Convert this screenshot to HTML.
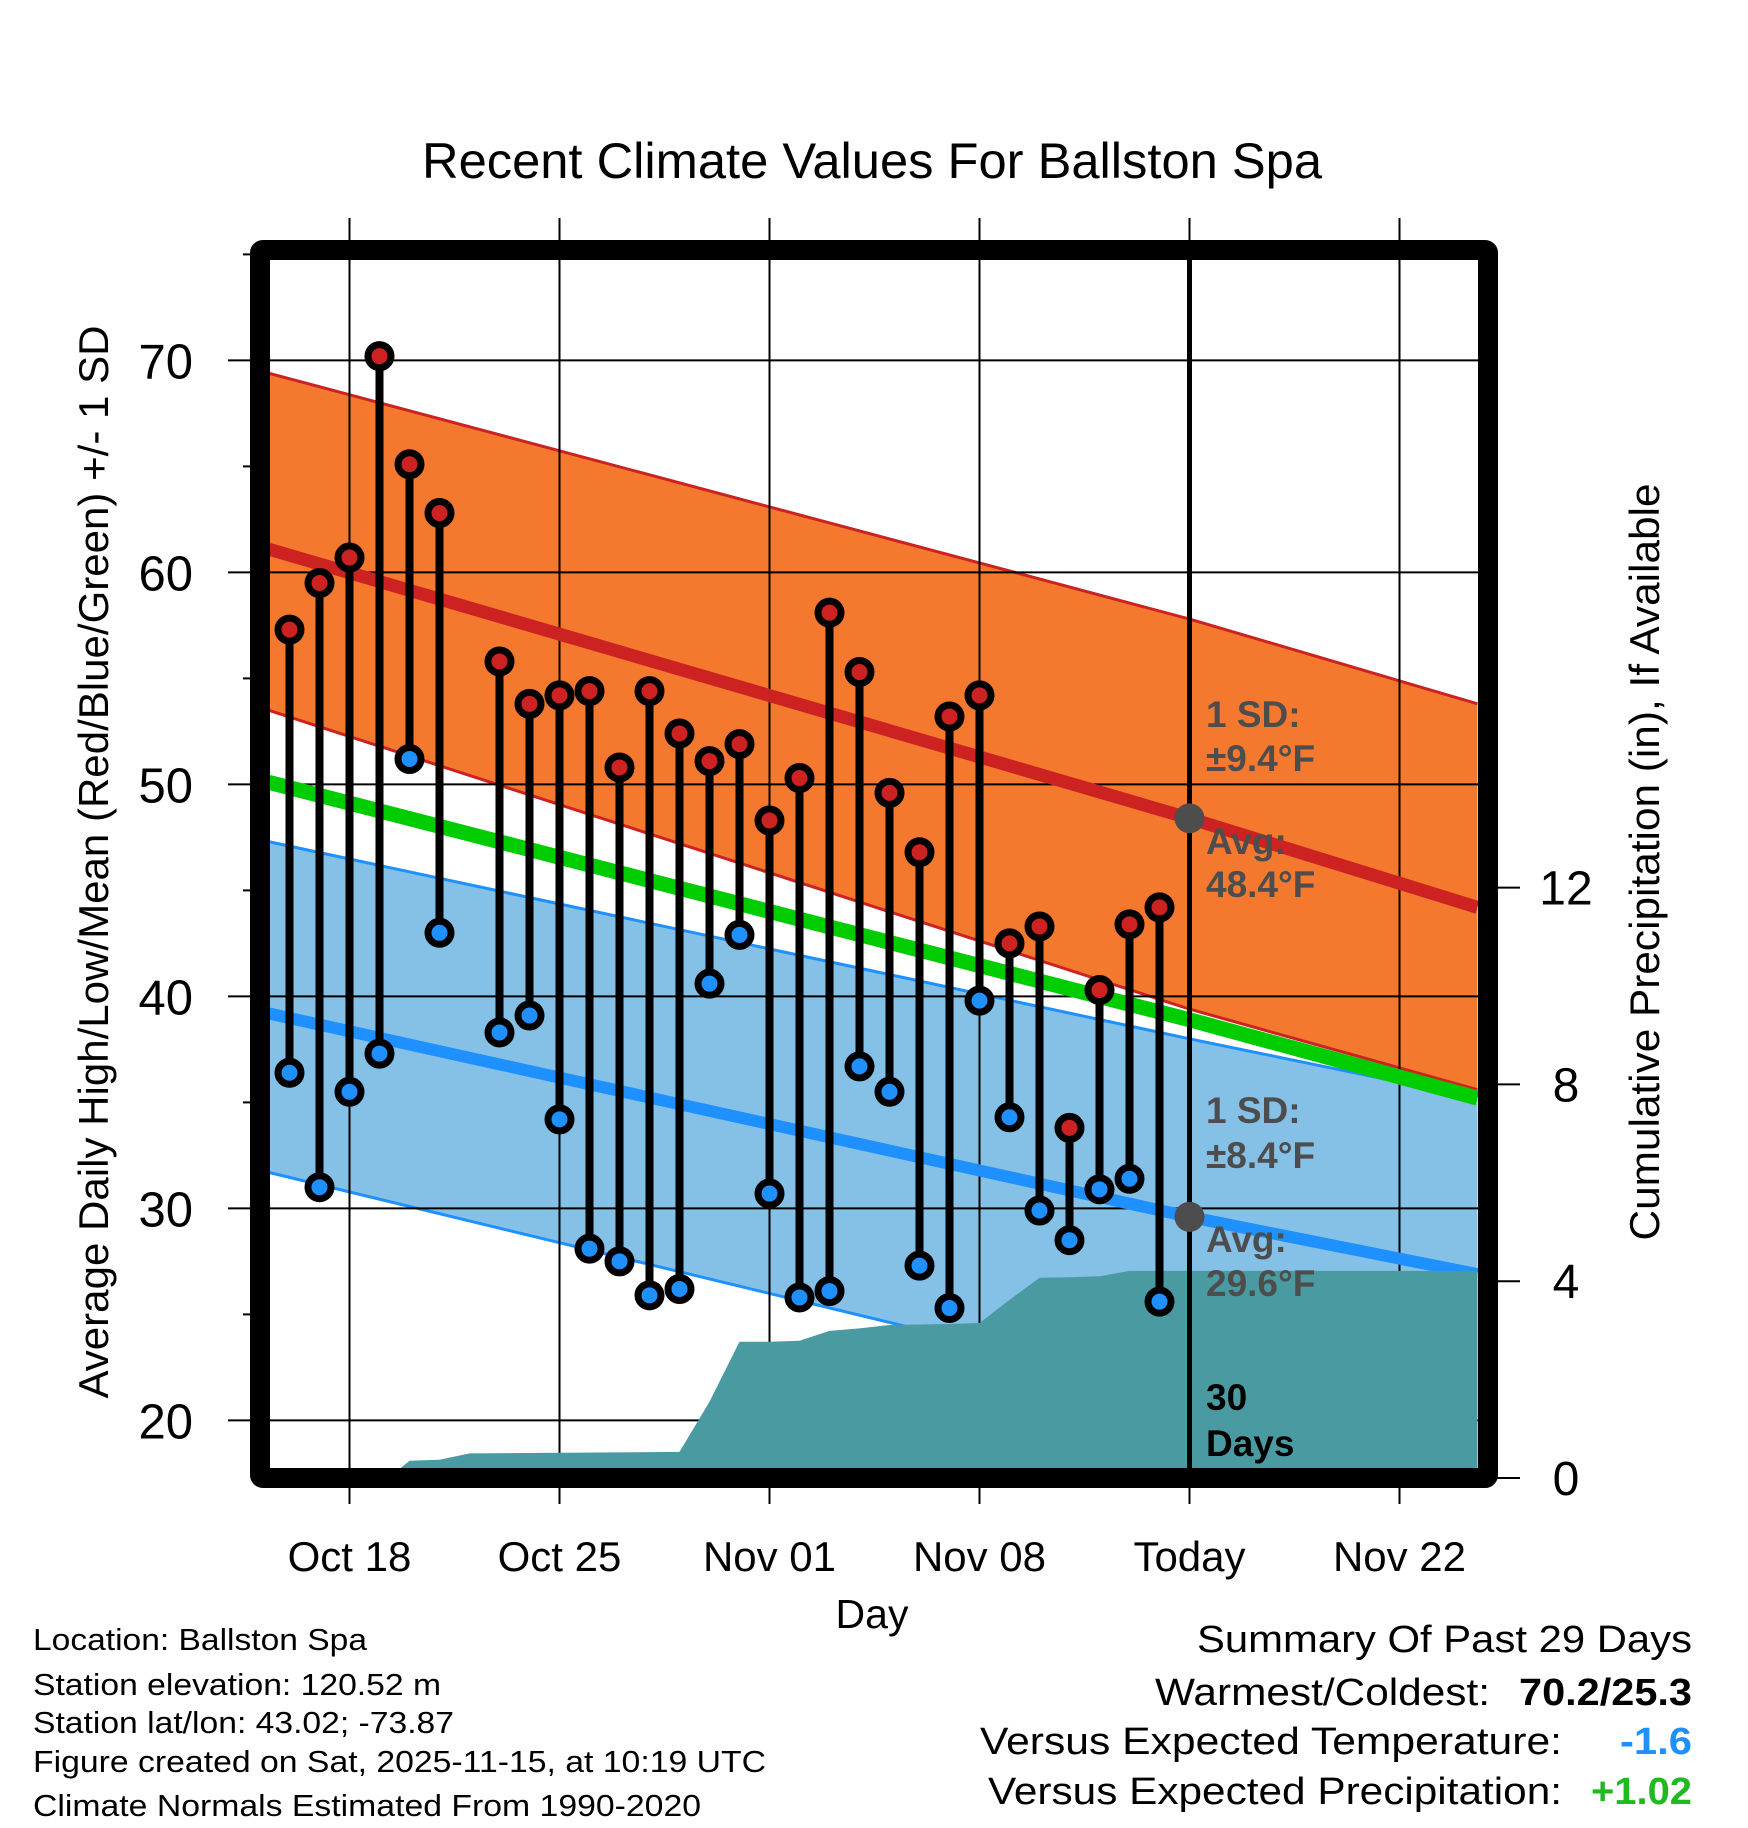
<!DOCTYPE html>
<html><head><meta charset="utf-8"><style>
html,body{margin:0;padding:0;background:#fff}
svg{display:block}
text{font-family:"Liberation Sans",Arial,sans-serif}
</style></head><body>
<svg id="chart" xmlns="http://www.w3.org/2000/svg" width="1748" height="1828" viewBox="0 0 1748 1828">
<defs><clipPath id="plotclip"><rect x="270" y="260" width="1208" height="1208"/></clipPath></defs>
<g id="bands" clip-path="url(#plotclip)"></g>
<g id="grid"></g>
<g id="layerTop" clip-path="url(#plotclip)"></g>
<g id="marks"></g>
<g id="axes"></g>
<text x="872" y="178" font-size="50" text-anchor="middle" textLength="900" lengthAdjust="spacingAndGlyphs">Recent Climate Values For Ballston Spa</text>
<text transform="translate(108,862) rotate(-90)" font-size="42" text-anchor="middle" textLength="1073" lengthAdjust="spacingAndGlyphs">Average Daily High/Low/Mean (Red/Blue/Green) +/- 1 SD</text>
<text transform="translate(1659,862) rotate(-90)" font-size="42" text-anchor="middle" textLength="757" lengthAdjust="spacingAndGlyphs">Cumulative Precipitation (in), If Available</text>
<text x="872" y="1628" font-size="41" text-anchor="middle">Day</text>
<g font-size="31">
<text x="33" y="1650" textLength="334" lengthAdjust="spacingAndGlyphs">Location: Ballston Spa</text>
<text x="33" y="1695" textLength="408" lengthAdjust="spacingAndGlyphs">Station elevation: 120.52 m</text>
<text x="33" y="1733" textLength="421" lengthAdjust="spacingAndGlyphs">Station lat/lon: 43.02; -73.87</text>
<text x="33" y="1772" textLength="733" lengthAdjust="spacingAndGlyphs">Figure created on Sat, 2025-11-15, at 10:19 UTC</text>
<text x="33" y="1816" textLength="668" lengthAdjust="spacingAndGlyphs">Climate Normals Estimated From 1990-2020</text>
</g>
<g font-size="38">
<text x="1692" y="1652" text-anchor="end" textLength="495" lengthAdjust="spacingAndGlyphs">Summary Of Past 29 Days</text>
<text x="1490" y="1705" text-anchor="end" textLength="335" lengthAdjust="spacingAndGlyphs">Warmest/Coldest:</text>
<text x="1692" y="1705" text-anchor="end" font-weight="bold" textLength="173" lengthAdjust="spacingAndGlyphs">70.2/25.3</text>
<text x="1562" y="1754" text-anchor="end" textLength="582" lengthAdjust="spacingAndGlyphs">Versus Expected Temperature:</text>
<text x="1692" y="1754" text-anchor="end" font-weight="bold" fill="#1e90ff" textLength="72" lengthAdjust="spacingAndGlyphs">-1.6</text>
<text x="1562" y="1804" text-anchor="end" textLength="574" lengthAdjust="spacingAndGlyphs">Versus Expected Precipitation:</text>
<text x="1692" y="1804" text-anchor="end" font-weight="bold" fill="#1fba1f" textLength="101" lengthAdjust="spacingAndGlyphs">+1.02</text>
</g>
</svg>
<script>
// ---- data (day index: 0 = Oct 16) ----
const obsDays  = [0,1,2,3,4,5,7,8,9,10,11,12,13,14,15,16,17,18,19,20,21,22,23,24,25,26,27,28,29];
const highs    = [57.3,59.5,60.7,70.2,65.1,62.8,55.8,53.8,54.2,54.4,50.8,54.4,52.4,51.1,51.9,48.3,50.3,58.1,55.3,49.6,46.8,53.2,54.2,42.5,43.3,33.8,40.3,43.4,44.2];
const lows     = [36.4,31.0,35.5,37.3,51.2,43.0,38.3,39.1,34.2,28.1,27.5,25.9,26.2,40.6,42.9,30.7,25.8,26.1,36.7,35.5,27.3,25.3,39.8,34.3,29.9,28.5,30.9,31.4,25.6];
const normDays = [-0.7,30,39.6];
const highMean = [61.1,48.4,44.2];
const highUp   = [69.4,57.8,53.8];
const highLo   = [53.5,39.4,35.6];
const meanMean = [50.1,38.9,35.2];
const lowMean  = [39.2,29.6,26.9];
const lowUp    = [47.3,38.0,35.2];
const lowLo    = [31.7,21.2,17.8];
const precipDays = [3.6,4,5,6,13,14,15,16,17,18,19,20,22,23,24,25,26,27,28,29,39.6];
const precipVals = [0.15,0.35,0.37,0.5,0.53,1.55,2.77,2.77,2.79,2.99,3.04,3.11,3.13,3.15,3.62,4.07,4.08,4.1,4.21,4.21,4.21];
const xTickDays = [2,9,16,23,30,37];
const xTickLabels = ["Oct 18","Oct 25","Nov 01","Nov 08","Today","Nov 22"];
const yTicks = [20,30,40,50,60,70];
const y2Ticks = [0,4,8,12];

// ---- scales ----
const X = d => 289.5 + 30*d;
const Y = v => 360.4 + (70 - v)*21.2;
const Y2 = p => 1478 - p*49.2;
const NS = "http://www.w3.org/2000/svg";
function mk(tag, attrs, parent){ const el=document.createElementNS(NS,tag); for(const k in attrs) el.setAttribute(k,attrs[k]); parent.appendChild(el); return el; }
const bandsG = document.getElementById('bands');
const gridG = document.getElementById('grid');
const topG = document.getElementById('layerTop');
const marksG = document.getElementById('marks');
const axesG = document.getElementById('axes');

function bandPath(up, lo){
  let d = normDays.map((t,i)=>(i?'L':'M')+X(t)+','+Y(up[i])).join(' ');
  for(let i=normDays.length-1;i>=0;i--) d += ' L'+X(normDays[i])+','+Y(lo[i]);
  return d+' Z';
}
function linePath(arr){ return normDays.map((t,i)=>(i?'L':'M')+X(t)+','+Y(arr[i])).join(' '); }

let el;
el = mk('path',{d:bandPath(highUp,highLo),fill:'#f4792e'},bandsG);
 
el = mk('path',{d:linePath(highUp),fill:'none',stroke:'#cc2222','stroke-width':3},bandsG);
 
el = mk('path',{d:linePath(highLo),fill:'none',stroke:'#cc2222','stroke-width':3},bandsG);
 
el = mk('path',{d:bandPath(lowUp,lowLo),fill:'#85c1e7'},bandsG);
 
el = mk('path',{d:linePath(lowUp),fill:'none',stroke:'#1e90ff','stroke-width':3},bandsG);
 
el = mk('path',{d:linePath(lowLo),fill:'none',stroke:'#1e90ff','stroke-width':3},bandsG);
 

// gridlines
xTickDays.forEach(t=>{
  el = mk('line',{x1:X(t),x2:X(t),y1:218,y2:1504,stroke:'#000','stroke-width':2},gridG);
   
});
yTicks.forEach(v=>{
  el = mk('line',{x1:228,x2:1478,y1:Y(v),y2:Y(v),stroke:'#000','stroke-width':2},gridG);
   
});

el = mk('path',{d:linePath(highMean),fill:'none',stroke:'#cc2222','stroke-width':13},topG);
 
el = mk('path',{d:linePath(meanMean),fill:'none',stroke:'#00cc00','stroke-width':15},topG);
 
el = mk('path',{d:linePath(lowMean),fill:'none',stroke:'#1e90ff','stroke-width':12},topG);
 

// precip area
let pd = 'M'+X(precipDays[0])+','+Y2(0);
precipDays.forEach((t,i)=>{ pd += ' L'+X(t)+','+Y2(precipVals[i]); });
pd += ' L'+X(precipDays[precipDays.length-1])+','+Y2(0)+' Z';
el = mk('path',{d:pd,fill:'#4a9aa2'},topG);
 

// today line
el = mk('line',{x1:X(30),x2:X(30),y1:258,y2:1470,stroke:'#000','stroke-width':5},marksG);
 
el = mk('circle',{cx:X(30),cy:Y(highMean[1]),r:15,fill:'#4d4d4d'},marksG);
 
el = mk('circle',{cx:X(30),cy:Y(lowMean[1]),r:15,fill:'#4d4d4d'},marksG);
 

// stems and points
obsDays.forEach((t,i)=>{
  el = mk('line',{x1:X(t),x2:X(t),y1:Y(highs[i]),y2:Y(lows[i]),stroke:'#000','stroke-width':8},marksG);
   
});
obsDays.forEach((t,i)=>{
  el = mk('circle',{cx:X(t),cy:Y(highs[i]),r:11.5,fill:'#cc2222',stroke:'#000','stroke-width':7},marksG);
   
  el = mk('circle',{cx:X(t),cy:Y(lows[i]),r:11.5,fill:'#1e90ff',stroke:'#000','stroke-width':7},marksG);
   
});

// annotations
const ann = [["1 SD:",727,'#4d4d4d'],["±9.4°F",771,'#4d4d4d'],["Avg:",854,'#4d4d4d'],["48.4°F",897,'#4d4d4d'],
             ["1 SD:",1123,'#4d4d4d'],["±8.4°F",1168,'#4d4d4d'],["Avg:",1252,'#4d4d4d'],["29.6°F",1296,'#4d4d4d'],
             ["30",1410,'#000'],["Days",1456,'#000']];
ann.forEach(a=>{
  el = mk('text',{x:1206,y:a[1],'font-size':37,'font-weight':'bold',fill:a[2]},marksG);
  el.textContent = a[0];
   
});

// frame
el = mk('rect',{x:260,y:250,width:1228,height:1228,fill:'none',stroke:'#000','stroke-width':20,rx:3},axesG);
 

// ticks & labels
yTicks.forEach(v=>{
  el = mk('text',{x:193,y:Y(v)+18,'font-size':49,'text-anchor':'end'},axesG);
  el.textContent = v;
   
});
for(let v=20; v<=75; v+=5){ if(v%10){
  el = mk('line',{x1:243,x2:252,y1:Y(v),y2:Y(v),stroke:'#000','stroke-width':2},axesG);
   
}}
y2Ticks.forEach(p=>{
  el = mk('line',{x1:1497,x2:1520,y1:Y2(p),y2:Y2(p),stroke:'#000','stroke-width':2},axesG);
   
  el = mk('text',{x:1566,y:Y2(p)+17,'font-size':48,'text-anchor':'middle'},axesG);
  el.textContent = p;
   
});
xTickDays.forEach((t,i)=>{
  el = mk('text',{x:X(t),y:1571,'font-size':42,'text-anchor':'middle'},axesG);
  el.textContent = xTickLabels[i];
   
});
</script>
</body></html>
